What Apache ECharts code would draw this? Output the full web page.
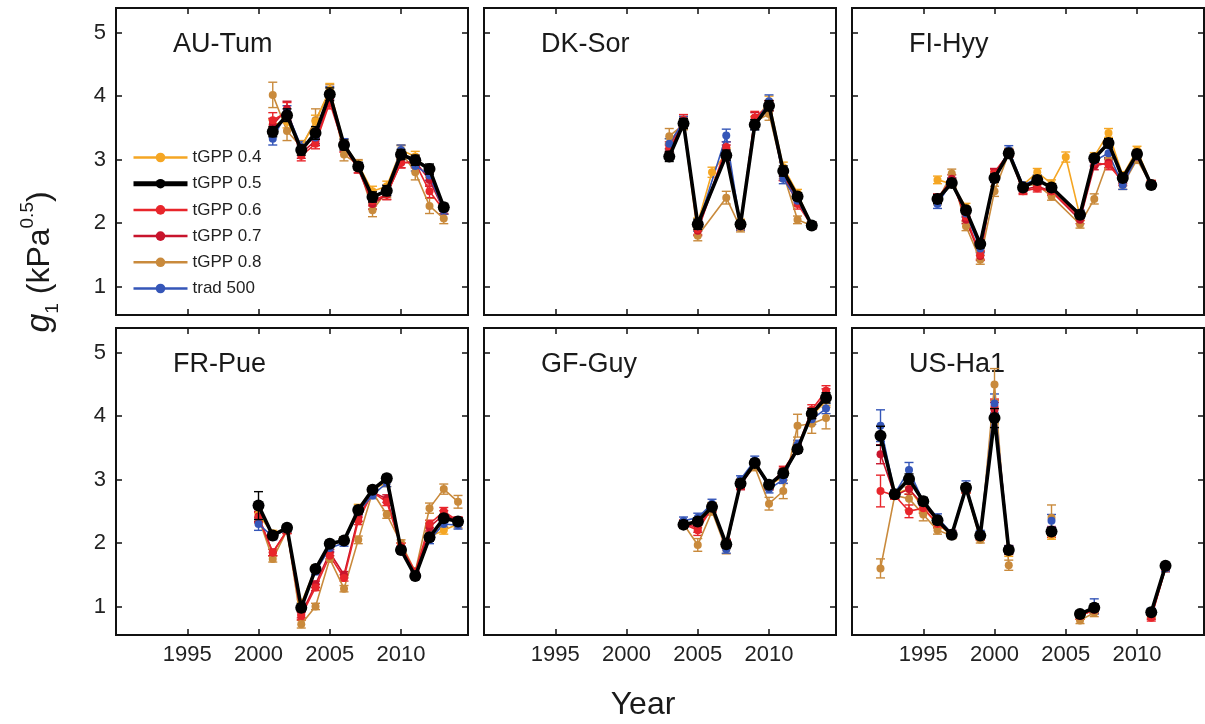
<!DOCTYPE html>
<html>
<head>
<meta charset="utf-8">
<title>g1 by year</title>
<script src="https://cdn.jsdelivr.net/npm/echarts@6/dist/echarts.min.js"></script>
<style>
  html, body { margin: 0; padding: 0; background: #fff; }
  #main { width: 1205px; height: 724px; }
</style>
</head>
<body>
<div id="main"></div>
<script>
  // ---- data ----
  var xTicks = [1995, 2000, 2005, 2010];
  var yTicks = [1, 2, 3, 4, 5];

  // AU-Tum
  var auTumYears = [2001, 2002, 2003, 2004, 2005, 2006, 2007, 2008, 2009, 2010, 2011, 2012, 2013];
  var auTum04 = [3.55, 3.60, 3.20, 3.60, 4.10, 3.25, 2.92, 2.50, 2.58, 3.15, 3.05, 2.80, 2.20];
  var auTum05 = [3.44, 3.70, 3.15, 3.42, 4.03, 3.23, 2.89, 2.41, 2.51, 3.08, 2.99, 2.85, 2.25];
  var auTum06 = [3.62, 3.75, 3.06, 3.25, 3.90, 3.20, 2.85, 2.35, 2.45, 2.95, 2.95, 2.50, 2.20];
  var auTum07 = [3.55, 3.80, 3.10, 3.30, 3.95, 3.20, 2.85, 2.30, 2.45, 2.95, 2.97, 2.68, 2.20];
  var auTum08 = [4.02, 3.45, 3.20, 3.62, 4.08, 3.08, 2.92, 2.20, 2.50, 3.12, 2.80, 2.27, 2.07];
  var auTumRad = [3.33, 3.75, 3.20, 3.35, 4.05, 3.25, 2.90, 2.42, 2.52, 3.15, 2.90, 2.75, 2.20];
  var auTum04Err = [0.08, 0.10, 0.08, 0.10, 0.10, 0.08, 0.06, 0.08, 0.08, 0.08, 0.08, 0.08, 0.06];
  var auTum05Err = [0.08, 0.10, 0.08, 0.10, 0.10, 0.08, 0.06, 0.08, 0.08, 0.08, 0.08, 0.08, 0.06];
  var auTum06Err = [0.12, 0.15, 0.08, 0.08, 0.10, 0.08, 0.06, 0.08, 0.08, 0.08, 0.08, 0.10, 0.06];
  var auTum07Err = [0.10, 0.12, 0.08, 0.08, 0.10, 0.08, 0.06, 0.08, 0.08, 0.08, 0.08, 0.10, 0.06];
  var auTum08Err = [0.20, 0.15, 0.10, 0.18, 0.10, 0.10, 0.08, 0.10, 0.10, 0.10, 0.12, 0.12, 0.08];
  var auTumRadErr = [0.10, 0.10, 0.08, 0.10, 0.10, 0.08, 0.06, 0.08, 0.08, 0.08, 0.08, 0.08, 0.06];

  // DK-Sor
  var dkSorYears = [2003, 2004, 2005, 2006, 2007, 2008, 2009, 2010, 2011, 2012, 2013];
  var dkSor04 = [3.25, 3.60, 2.00, 2.80, 3.10, 2.00, 3.60, 3.92, 2.88, 2.47, 1.96];
  var dkSor05 = [3.05, 3.57, 1.98, null, 3.07, 1.98, 3.55, 3.85, 2.82, 2.42, 1.96];
  var dkSor06 = [3.20, 3.63, 1.90, null, 3.20, 1.96, 3.66, 3.85, 2.75, 2.30, 1.96];
  var dkSor07 = [3.15, 3.60, 1.88, null, 3.15, 1.95, 3.66, 3.85, 2.75, 2.35, 1.96];
  var dkSor08 = [3.37, 3.55, 1.80, null, 2.40, 1.92, 3.60, 3.72, 2.78, 2.05, 1.96];
  var dkSorRad = [3.25, 3.60, 1.95, null, 3.38, 1.95, 3.55, 3.92, 2.70, 2.35, 1.96];
  var dkSor04Err = [0.08, 0.08, 0.08, 0.08, 0.08, 0.06, 0.08, 0.08, 0.08, 0.06, 0.05];
  var dkSor05Err = [0.08, 0.08, 0.08, 0, 0.08, 0.06, 0.08, 0.08, 0.08, 0.06, 0.05];
  var dkSor06Err = [0.08, 0.08, 0.08, 0, 0.08, 0.06, 0.10, 0.08, 0.08, 0.08, 0.05];
  var dkSor07Err = [0.08, 0.08, 0.08, 0, 0.08, 0.06, 0.08, 0.08, 0.08, 0.08, 0.05];
  var dkSor08Err = [0.12, 0.08, 0.08, 0, 0.10, 0.06, 0.08, 0.10, 0.08, 0.06, 0.05];
  var dkSorRadErr = [0.08, 0.08, 0.08, 0, 0.10, 0.06, 0.08, 0.10, 0.08, 0.08, 0.05];

  // FI-Hyy
  var fiHyyYears = [1996, 1997, 1998, 1999, 2000, 2001, 2002, 2003, 2004, 2005, 2006, 2007, 2008, 2009, 2010, 2011];
  var fiHyy04 = [2.68, 2.62, 2.25, 1.60, 2.75, 3.12, 2.60, 2.80, 2.62, 3.04, 2.10, 3.05, 3.42, 2.75, 3.15, 2.62];
  var fiHyy05 = [2.38, 2.63, 2.20, 1.67, 2.71, 3.10, 2.56, 2.68, 2.56, null, 2.13, 3.02, 3.26, 2.71, 3.09, 2.60];
  var fiHyy06 = [2.40, 2.65, 2.10, 1.50, 2.78, 3.10, 2.50, 2.55, 2.50, null, 2.10, 2.95, 2.92, 2.65, 3.05, 2.62];
  var fiHyy07 = [2.38, 2.70, 2.05, 1.48, 2.80, 3.10, 2.52, 2.58, 2.50, null, 2.05, 2.90, 2.95, 2.68, 3.05, 2.62];
  var fiHyy08 = [2.35, 2.78, 1.95, 1.42, 2.50, 3.10, 2.60, 2.60, 2.42, null, 1.98, 2.38, 3.00, 2.60, 3.00, 2.60];
  var fiHyyRad = [2.30, 2.65, 2.15, 1.60, 2.70, 3.15, 2.60, 2.70, 2.55, null, 2.15, 2.98, 3.10, 2.60, 3.05, 2.60];
  var fiHyy04Err = [0.06, 0.06, 0.06, 0.06, 0.06, 0.06, 0.05, 0.06, 0.06, 0.08, 0.06, 0.06, 0.07, 0.06, 0.06, 0.05];
  var fiHyy05Err = [0.07, 0.06, 0.06, 0.06, 0.06, 0.06, 0.05, 0.06, 0.06, 0, 0.06, 0.06, 0.07, 0.06, 0.06, 0.05];
  var fiHyy06Err = [0.06, 0.06, 0.06, 0.07, 0.06, 0.06, 0.05, 0.06, 0.06, 0, 0.06, 0.06, 0.08, 0.06, 0.06, 0.05];
  var fiHyy07Err = [0.06, 0.06, 0.06, 0.07, 0.06, 0.06, 0.05, 0.06, 0.06, 0, 0.06, 0.06, 0.08, 0.06, 0.06, 0.05];
  var fiHyy08Err = [0.06, 0.07, 0.07, 0.07, 0.08, 0.06, 0.05, 0.06, 0.06, 0, 0.06, 0.08, 0.07, 0.07, 0.06, 0.05];
  var fiHyyRadErr = [0.07, 0.06, 0.06, 0.07, 0.06, 0.07, 0.05, 0.06, 0.06, 0, 0.06, 0.07, 0.08, 0.07, 0.06, 0.05];

  // FR-Pue
  var frPueYears = [2000, 2001, 2002, 2003, 2004, 2005, 2006, 2007, 2008, 2009, 2010, 2011, 2012, 2013, 2014];
  var frPue04 = [2.45, 2.15, 2.22, 1.05, 1.60, 1.95, 2.05, 2.55, 2.85, 2.95, 1.95, 1.50, 2.10, 2.20, 2.30];
  var frPue05 = [2.59, 2.12, 2.24, 0.98, 1.59, 1.99, 2.04, 2.52, 2.84, 3.02, 1.89, 1.48, 2.09, 2.39, 2.34];
  var frPue06 = [2.40, 1.85, 2.20, 0.85, 1.30, 1.80, 1.45, 2.35, 2.80, 2.65, 1.95, 1.55, 2.30, 2.50, 2.35];
  var frPue07 = [2.42, 1.85, 2.20, 0.88, 1.35, 1.85, 1.50, 2.40, 2.80, 2.70, 1.95, 1.50, 2.25, 2.45, 2.35];
  var frPue08 = [2.40, 1.75, 2.20, 0.72, 1.00, 1.75, 1.28, 2.05, 2.80, 2.45, 2.00, 1.55, 2.55, 2.85, 2.65];
  var frPueRad = [2.30, 2.10, 2.22, 1.00, 1.55, 1.92, 2.00, 2.50, 2.75, 2.95, 1.90, 1.50, 2.05, 2.30, 2.28];
  var frPue04Err = [0.08, 0.05, 0.05, 0.06, 0.05, 0.05, 0.05, 0.06, 0.05, 0.06, 0.05, 0.05, 0.06, 0.06, 0.06];
  var frPue05Err = [0.22, 0.05, 0.05, 0.06, 0.05, 0.05, 0.05, 0.06, 0.05, 0.06, 0.05, 0.05, 0.06, 0.06, 0.06];
  var frPue06Err = [0.08, 0.05, 0.05, 0.06, 0.05, 0.05, 0.05, 0.06, 0.05, 0.06, 0.05, 0.05, 0.06, 0.06, 0.06];
  var frPue07Err = [0.08, 0.05, 0.05, 0.06, 0.05, 0.05, 0.05, 0.06, 0.05, 0.06, 0.05, 0.05, 0.06, 0.06, 0.06];
  var frPue08Err = [0.08, 0.05, 0.05, 0.06, 0.05, 0.05, 0.05, 0.06, 0.05, 0.06, 0.05, 0.05, 0.08, 0.08, 0.10];
  var frPueRadErr = [0.10, 0.05, 0.05, 0.06, 0.05, 0.05, 0.05, 0.06, 0.05, 0.06, 0.05, 0.05, 0.06, 0.06, 0.06];

  // GF-Guy
  var gfGuyYears = [2004, 2005, 2006, 2007, 2008, 2009, 2010, 2011, 2012, 2013, 2014];
  var gfGuy04 = [2.30, 2.30, 2.58, 1.98, 2.95, 3.25, 2.90, 3.05, 3.50, 4.00, 4.25];
  var gfGuy05 = [2.29, 2.34, 2.57, 1.98, 2.94, 3.26, 2.92, 3.10, 3.48, 4.04, 4.29];
  var gfGuy06 = [2.30, 2.20, 2.55, 2.00, 2.92, 3.25, 2.90, 3.15, 3.50, 4.10, 4.40];
  var gfGuy07 = [2.30, 2.25, 2.55, 2.00, 2.90, 3.25, 2.90, 3.12, 3.50, 4.05, 4.35];
  var gfGuy08 = [2.30, 1.97, 2.50, 1.90, 2.95, 3.20, 2.62, 2.82, 3.85, 3.88, 3.97];
  var gfGuyRad = [2.35, 2.40, 2.62, 1.90, 3.00, 3.30, 2.85, 3.00, 3.55, 3.95, 4.12];
  var gfGuy04Err = [0.06, 0.06, 0.06, 0.06, 0.06, 0.06, 0.06, 0.06, 0.06, 0.08, 0.08];
  var gfGuy05Err = [0.06, 0.06, 0.06, 0.06, 0.06, 0.06, 0.06, 0.06, 0.06, 0.08, 0.08];
  var gfGuy06Err = [0.06, 0.08, 0.06, 0.06, 0.06, 0.06, 0.06, 0.06, 0.06, 0.08, 0.08];
  var gfGuy07Err = [0.06, 0.08, 0.06, 0.06, 0.06, 0.06, 0.06, 0.06, 0.06, 0.08, 0.08];
  var gfGuy08Err = [0.06, 0.10, 0.06, 0.07, 0.06, 0.06, 0.10, 0.12, 0.18, 0.15, 0.17];
  var gfGuyRadErr = [0.06, 0.07, 0.07, 0.06, 0.06, 0.07, 0.06, 0.06, 0.07, 0.08, 0.08];

  // US-Ha1 (null = no estimate that year, the line breaks there)
  var usHa1Years = [1992, 1993, 1994, 1995, 1996, 1997, 1998, 1999, 2000, 2001, 2002, 2003, 2004, 2005, 2006, 2007, 2008, 2009, 2010, 2011, 2012];
  var usHa104 = [3.70, 2.78, 2.85, 2.55, 2.30, 2.12, 2.85, 2.10, 4.00, 1.85, null, null, 2.12, null, 0.85, 0.95, null, null, null, 0.88, 1.60];
  var usHa105 = [3.69, 2.77, 3.01, 2.66, 2.36, 2.13, 2.87, 2.12, 3.97, 1.89, null, null, 2.18, null, 0.88, 0.98, null, null, null, 0.91, 1.64];
  var usHa106 = [2.82, 2.75, 2.50, 2.55, 2.30, 2.15, 2.85, 2.10, 4.15, 1.90, null, null, 2.15, null, 0.85, 0.95, null, null, null, 0.82, 1.60];
  var usHa107 = [3.40, 2.75, 2.85, 2.60, 2.35, 2.15, 2.85, 2.10, 4.10, 1.88, null, null, 2.20, null, 0.85, 0.95, null, null, null, 0.85, 1.62];
  var usHa108 = [1.60, 2.75, 2.70, 2.45, 2.20, 2.12, 2.85, 2.05, 4.50, 1.65, null, null, 2.40, null, 0.78, 0.90, null, null, null, 0.85, 1.60];
  var usHa1Rad = [3.85, 2.78, 3.15, 2.65, 2.40, 2.15, 2.90, 2.15, 4.20, 1.90, null, null, 2.35, null, 0.88, 1.00, null, null, null, 0.92, 1.60];
  var usHa104Err = [0.15, 0.06, 0.08, 0.06, 0.06, 0.05, 0.06, 0.05, 0.12, 0.06, 0, 0, 0.06, 0, 0.05, 0.06, 0, 0, 0, 0.05, 0.05];
  var usHa105Err = [0.15, 0.06, 0.08, 0.06, 0.06, 0.05, 0.06, 0.05, 0.15, 0.06, 0, 0, 0.06, 0, 0.05, 0.06, 0, 0, 0, 0.05, 0.05];
  var usHa106Err = [0.25, 0.06, 0.10, 0.08, 0.06, 0.05, 0.06, 0.05, 0.12, 0.06, 0, 0, 0.06, 0, 0.05, 0.06, 0, 0, 0, 0.05, 0.05];
  var usHa107Err = [0.15, 0.06, 0.08, 0.06, 0.06, 0.05, 0.06, 0.05, 0.12, 0.06, 0, 0, 0.06, 0, 0.05, 0.06, 0, 0, 0, 0.05, 0.05];
  var usHa108Err = [0.15, 0.06, 0.18, 0.10, 0.06, 0.05, 0.06, 0.05, 0.25, 0.08, 0, 0, 0.20, 0, 0.05, 0.06, 0, 0, 0, 0.05, 0.05];
  var usHa1RadErr = [0.25, 0.06, 0.12, 0.06, 0.06, 0.05, 0.08, 0.05, 0.15, 0.06, 0, 0, 0.10, 0, 0.05, 0.12, 0, 0, 0, 0.05, 0.05];

  // ---- series look ----
  // drawing order: black last so it sits on top
  var seriesDefs = [
    {key: 'g08', name: 'tGPP 0.8', color: '#C98A3C', width: 1.6, size: 8},
    {key: 'g04', name: 'tGPP 0.4', color: '#F5A623', width: 1.6, size: 8},
    {key: 'g07', name: 'tGPP 0.7', color: '#C8142C', width: 1.6, size: 8},
    {key: 'g06', name: 'tGPP 0.6', color: '#E8252B', width: 1.6, size: 8},
    {key: 'rad', name: 'trad 500', color: '#3556B8', width: 1.6, size: 8},
    {key: 'g05', name: 'tGPP 0.5', color: '#000000', width: 3.6, size: 12}
  ];

  var panels = [
    {name: 'AU-Tum', years: auTumYears, breakGaps: false,
      vals: {g04: auTum04, g05: auTum05, g06: auTum06, g07: auTum07, g08: auTum08, rad: auTumRad},
      errs: {g04: auTum04Err, g05: auTum05Err, g06: auTum06Err, g07: auTum07Err, g08: auTum08Err, rad: auTumRadErr}},
    {name: 'DK-Sor', years: dkSorYears, breakGaps: false,
      vals: {g04: dkSor04, g05: dkSor05, g06: dkSor06, g07: dkSor07, g08: dkSor08, rad: dkSorRad},
      errs: {g04: dkSor04Err, g05: dkSor05Err, g06: dkSor06Err, g07: dkSor07Err, g08: dkSor08Err, rad: dkSorRadErr}},
    {name: 'FI-Hyy', years: fiHyyYears, breakGaps: false,
      vals: {g04: fiHyy04, g05: fiHyy05, g06: fiHyy06, g07: fiHyy07, g08: fiHyy08, rad: fiHyyRad},
      errs: {g04: fiHyy04Err, g05: fiHyy05Err, g06: fiHyy06Err, g07: fiHyy07Err, g08: fiHyy08Err, rad: fiHyyRadErr}},
    {name: 'FR-Pue', years: frPueYears, breakGaps: false,
      vals: {g04: frPue04, g05: frPue05, g06: frPue06, g07: frPue07, g08: frPue08, rad: frPueRad},
      errs: {g04: frPue04Err, g05: frPue05Err, g06: frPue06Err, g07: frPue07Err, g08: frPue08Err, rad: frPueRadErr}},
    {name: 'GF-Guy', years: gfGuyYears, breakGaps: false,
      vals: {g04: gfGuy04, g05: gfGuy05, g06: gfGuy06, g07: gfGuy07, g08: gfGuy08, rad: gfGuyRad},
      errs: {g04: gfGuy04Err, g05: gfGuy05Err, g06: gfGuy06Err, g07: gfGuy07Err, g08: gfGuy08Err, rad: gfGuyRadErr}},
    {name: 'US-Ha1', years: usHa1Years, breakGaps: true,
      vals: {g04: usHa104, g05: usHa105, g06: usHa106, g07: usHa107, g08: usHa108, rad: usHa1Rad},
      errs: {g04: usHa104Err, g05: usHa105Err, g06: usHa106Err, g07: usHa107Err, g08: usHa108Err, rad: usHa1RadErr}}
  ];

  // ---- layout ----
  var FONT = '"Liberation Sans", Arial, sans-serif';
  var colLeft = [116, 484, 852];
  var rowTop = [8, 328];
  var panelW = 352, panelH = 307;
  var xMin = 1990, xMax = 2014.7;
  var yMin = 0.55, yMax = 5.39;

  var myChart = echarts.init(document.getElementById('main'), null, {renderer: 'canvas'});

  function errRender(params, api) {
    var x = api.value(0);
    var top = api.coord([x, api.value(2)]);
    var bot = api.coord([x, api.value(1)]);
    var w = 4.5;
    var st = {stroke: api.visual('color'), lineWidth: 1.4};
    return {
      type: 'group',
      children: [
        {type: 'line', shape: {x1: top[0], y1: top[1], x2: bot[0], y2: bot[1]}, style: st},
        {type: 'line', shape: {x1: top[0] - w, y1: top[1], x2: top[0] + w, y2: top[1]}, style: st},
        {type: 'line', shape: {x1: bot[0] - w, y1: bot[1], x2: bot[0] + w, y2: bot[1]}, style: st}
      ]
    };
  }

  var grids = [], xAxes = [], yAxes = [], series = [], graphics = [];

  panels.forEach(function (p, i) {
    var col = i % 3, row = Math.floor(i / 3);
    grids.push({
      left: colLeft[col], top: rowTop[row], width: panelW, height: panelH,
      show: true, borderColor: '#111', borderWidth: 2, backgroundColor: '#fff'
    });
    var tick = {show: true, inside: true, length: 6, lineStyle: {color: '#111', width: 1.5}};
    // bottom / top x axes
    xAxes.push({
      type: 'value', gridIndex: i, min: xMin, max: xMax, position: 'bottom',
      axisLine: {show: false}, splitLine: {show: false},
      axisTick: Object.assign({customValues: xTicks}, tick),
      axisLabel: {
        show: row === 1, customValues: xTicks, fontSize: 22, color: '#222', margin: 9, fontFamily: FONT,
        formatter: function (v) { return String(v); }
      }
    });
    xAxes.push({
      type: 'value', gridIndex: i, min: xMin, max: xMax, position: 'top',
      axisLine: {show: false}, splitLine: {show: false},
      axisTick: Object.assign({customValues: xTicks}, tick),
      axisLabel: {show: false}
    });
    // left / right y axes
    yAxes.push({
      type: 'value', gridIndex: i, min: yMin, max: yMax, position: 'left',
      axisLine: {show: false}, splitLine: {show: false},
      axisTick: Object.assign({customValues: yTicks}, tick),
      axisLabel: {show: col === 0, customValues: yTicks, fontSize: 22, color: '#222', margin: 10, fontFamily: FONT}
    });
    yAxes.push({
      type: 'value', gridIndex: i, min: yMin, max: yMax, position: 'right',
      axisLine: {show: false}, splitLine: {show: false},
      axisTick: Object.assign({customValues: yTicks}, tick),
      axisLabel: {show: false}
    });

    seriesDefs.forEach(function (d) {
      var v = p.vals[d.key], e = p.errs[d.key];
      var pts = [], bars = [];
      p.years.forEach(function (yr, j) {
        if (v[j] == null) {
          if (p.breakGaps) pts.push([yr, '-']);
          return;
        }
        pts.push([yr, v[j]]);
        if (e[j] > 0) bars.push([yr, v[j] - e[j], v[j] + e[j]]);
      });
      series.push({
        type: 'custom', xAxisIndex: i * 2, yAxisIndex: i * 2,
        renderItem: errRender, data: bars, z: d.key === 'g05' ? 3 : 2,
        itemStyle: {color: d.color}, silent: true
      });
      series.push({
        name: d.name, type: 'line', xAxisIndex: i * 2, yAxisIndex: i * 2,
        data: pts, connectNulls: !p.breakGaps,
        symbol: 'circle', symbolSize: d.size, showSymbol: true,
        lineStyle: {color: d.color, width: d.width},
        itemStyle: {color: d.color},
        z: d.key === 'g05' ? 4 : 2
      });
    });

    graphics.push({
      type: 'text', left: colLeft[col] + 57, top: rowTop[row] + 23,
      style: {text: p.name, fontSize: 27, fill: '#1a1a1a', fontFamily: FONT}
    });
  });

  // axis titles
  graphics.push({
    type: 'text', x: 40, y: 262, rotation: Math.PI / 2,
    style: {
      text: '{g|g}{sub|1}{m| (kPa}{sup|0.5}{m|)}',
      align: 'center', verticalAlign: 'middle', fill: '#1a1a1a', fontFamily: FONT,
      rich: {
        g: {fontSize: 34, fontStyle: 'italic', fontFamily: FONT, lineHeight: 44, verticalAlign: 'middle'},
        m: {fontSize: 32, fontFamily: FONT, lineHeight: 44, verticalAlign: 'middle'},
        sub: {fontSize: 19, fontFamily: FONT, lineHeight: 44, verticalAlign: 'bottom'},
        sup: {fontSize: 19, fontFamily: FONT, lineHeight: 44, verticalAlign: 'top'}
      }
    }
  });
  graphics.push({
    type: 'text', x: 643, y: 705,
    style: {text: 'Year', fontSize: 32, fill: '#1a1a1a', fontFamily: FONT, align: 'center', verticalAlign: 'middle'}
  });

  // legend entries, drawn a bit heavier than the plot lines like the original key
  var legendData = ['tGPP 0.4', 'tGPP 0.5', 'tGPP 0.6', 'tGPP 0.7', 'tGPP 0.8', 'trad 500'].map(function (n) {
    var d = seriesDefs.filter(function (s) { return s.name === n; })[0];
    var black = d.key === 'g05';
    return {
      name: n,
      itemStyle: {color: d.color},
      lineStyle: {color: d.color, width: black ? 5 : 2.5}
    };
  });

  var option = {
    animation: false,
    backgroundColor: '#fff',
    textStyle: {fontFamily: FONT},
    legend: {
      data: legendData,
      orient: 'vertical', left: 126, top: 144,
      itemWidth: 54, itemHeight: 12, itemGap: 9.2,
      textStyle: {fontSize: 17, color: '#222', fontFamily: FONT},
      selectedMode: false
    },
    grid: grids,
    xAxis: xAxes,
    yAxis: yAxes,
    series: series,
    graphic: graphics
  };

  myChart.setOption(option);
</script>
</body>
</html>
